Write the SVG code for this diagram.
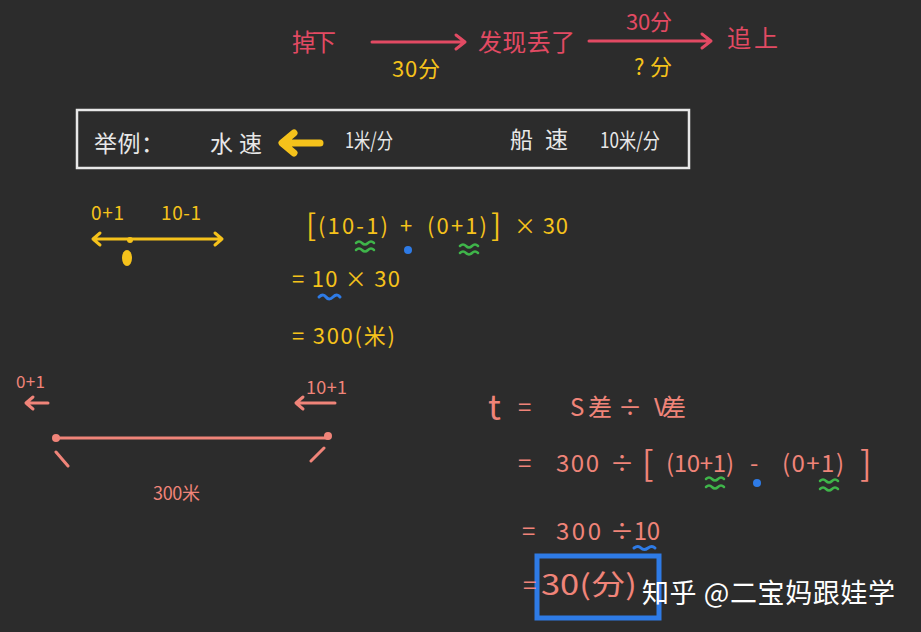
<svg xmlns="http://www.w3.org/2000/svg" width="921" height="632" viewBox="0 0 921 632">
<defs>
<style>
text{font-family:"Noto Sans CJK SC","Noto Sans",sans-serif;}
.r{fill:#e24a63;font-size:24px;}
.y{fill:#f5c21b;font-size:22px;}
.w{fill:#e8e8e8;font-size:23px;}
.s{fill:#f08479;font-size:24px;}
.lr{stroke:#e24a63;stroke-width:3;fill:none;stroke-linecap:round;stroke-linejoin:round;}
.ly{stroke:#f5c21b;stroke-width:3;fill:none;stroke-linecap:round;stroke-linejoin:round;}
.ls{stroke:#f08479;stroke-width:3;fill:none;stroke-linecap:round;stroke-linejoin:round;}
.g{stroke:#3fb54a;stroke-width:2.5;fill:none;stroke-linecap:round;}
.b{stroke:#2e7be6;stroke-width:3;fill:none;stroke-linecap:round;}
</style>
</defs>
<rect width="921" height="632" fill="#2c2c2c"/>

<g id="top-flow">
<text class="r" x="292" y="51" textLength="44">掉下</text>
<text class="r" x="478" y="51" textLength="97">发现丢了</text>
<text class="r" x="727" y="47" textLength="51">追上</text>
<text class="y" x="392" y="77" textLength="48">30分</text>
<text class="r" x="626" y="30" style="font-size:22px" textLength="46">30分</text>
<text class="y" x="634" y="75" textLength="38">?分</text>
</g>
<g id="connectors">
<path class="lr" d="M372 42 H465 M456 35 L465 42 L456 49"/>
<path class="lr" d="M589 41 H711 M702 34 L711 41 L702 48"/>
</g>

<g id="example-box">
<rect x="77" y="110" width="612" height="58" fill="none" stroke="#e8e8e8" stroke-width="2.5"/>
<text class="w" x="94" y="152" textLength="70">举例：</text>
<text class="w" x="210" y="152" textLength="52">水速</text>
<path d="M320 143 H286 M294 133 L282 143 L294 153" stroke="#f5c21b" stroke-width="7" fill="none" stroke-linecap="round" stroke-linejoin="round"/>
<text class="w" x="345" y="148" style="font-size:21px" textLength="48" lengthAdjust="spacingAndGlyphs">1米/分</text>
<text class="w" x="510" y="148" textLength="58">船速</text>
<text class="w" x="600" y="148" style="font-size:21px" textLength="60" lengthAdjust="spacingAndGlyphs">10米/分</text>
</g>

<g id="number-line">
<text class="y" x="91" y="220" style="font-size:19px" textLength="33">0+1</text>
<text class="y" x="161" y="220" style="font-size:19px" textLength="40">10-1</text>
<path class="ly" d="M93 239 H222 M100 233 L93 239 L100 245 M215 233 L222 239 L215 245"/>
<circle cx="130" cy="240" r="3" fill="#f5c21b"/>
<ellipse cx="127" cy="258" rx="5" ry="8" fill="#f5c21b"/>
</g>

<g id="equation-1">
<text class="y" x="306" y="236" style="font-size:30px">[</text>
<text class="y" x="318" y="234" textLength="70">(10-1)</text>
<text class="y" x="400" y="234">+</text>
<text class="y" x="427" y="234" textLength="60">(0+1)</text>
<text class="y" x="491" y="236" style="font-size:30px">]</text>
<text class="y" x="514" y="234" textLength="54">× 30</text>
<path class="g" d="M356 243 q3-3 6 0 t6 0 t6 0 M356 250 q3-3 6 0 t6 0 t6 0"/>
<path class="g" d="M460 246 q3-3 6 0 t6 0 t6 0 M460 253 q3-3 6 0 t6 0 t6 0"/>
<circle cx="408" cy="250" r="4" fill="#2e7be6"/>
<text class="y" x="292" y="287" textLength="108">= 10 × 30</text>
<path class="b" d="M319 297 q4-4 7 0 t7 0 t7 0"/>
<text class="y" x="292" y="344" textLength="103">= 300(米)</text>
</g>

<g id="distance-diagram">
<text class="s" x="16" y="388" style="font-size:17px" textLength="29">0+1</text>
<path class="ls" d="M26 403 H48 M33 397 L26 403 L33 409"/>
<text class="s" x="306" y="394" style="font-size:18px" textLength="41">10+1</text>
<path class="ls" d="M296 403 H335 M303 397 L296 403 L303 409"/>
<path class="ls" d="M56 438 H328"/>
<circle cx="56" cy="438" r="4" fill="#f08479"/>
<circle cx="328" cy="436" r="4" fill="#f08479"/>
<path class="ls" d="M56 452 L68 466 M324 448 L311 461"/>
<text class="s" x="153" y="500" style="font-size:18px" textLength="47">300米</text>
</g>

<g id="equation-2">
<text class="s" x="488" y="420" style="font-size:34px">t</text>
<text class="s" x="518" y="416">=</text>
<text class="s" x="570" y="416" textLength="42">S差</text>
<text class="s" x="618" y="416">÷</text>
<text class="s" x="654" y="416" textLength="32">V差</text>
<text class="s" x="518" y="472">=</text>
<text class="s" x="556" y="472" textLength="43">300</text>
<text class="s" x="610" y="472">÷</text>
<text class="s" x="642" y="476" style="font-size:34px">[</text>
<text class="s" x="666" y="472" textLength="68">(10+1)</text>
<text class="s" x="750" y="472">-</text>
<text class="s" x="782" y="472" textLength="62">(0+1)</text>
<text class="s" x="860" y="476" style="font-size:34px">]</text>
<path class="g" d="M706 479 q3-3 6 0 t6 0 t6 0 M706 487 q3-3 6 0 t6 0 t6 0"/>
<path class="g" d="M820 481 q3-3 6 0 t6 0 t6 0 M820 489 q3-3 6 0 t6 0 t6 0"/>
<circle cx="757" cy="483" r="4" fill="#2e7be6"/>
<text class="s" x="522" y="540">=</text>
<text class="s" x="556" y="540" textLength="45">300</text>
<text class="s" x="610" y="540" textLength="50">÷10</text>
<path class="b" d="M634 548 q4-3 7 0 t7 0 t7 0"/>
<rect x="537" y="556" width="122" height="62" fill="none" stroke="#2e7be6" stroke-width="5"/>
<text class="s" x="523" y="594">=</text>
<text class="s" x="541" y="595" style="font-size:28px" textLength="96" lengthAdjust="spacingAndGlyphs">30(分)</text>
</g>

<g id="watermark">
<text x="642" y="603" fill="#ffffff" style="font-size:27px" textLength="253">知乎 @二宝妈跟娃学</text>
</g>
</svg>
